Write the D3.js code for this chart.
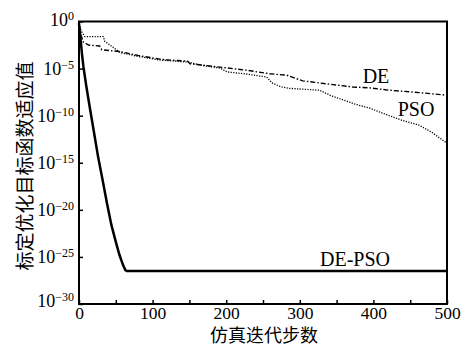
<!DOCTYPE html>
<html>
<head>
<meta charset="utf-8">
<script src="https://cdn.jsdelivr.net/npm/d3@7"></script>
<style>
body { margin: 0; background: #fff; }
svg text { font-family: "Liberation Serif", "DejaVu Serif", serif; fill: #000; }
svg .x-axis text { font-size: 17.5px; }
svg text.cjk { font-family: "Noto Sans CJK SC", sans-serif; font-size: 19px; }
svg text.x-title { font-size: 18px; }
svg text.curve-label { font-size: 20px; }
</style>
</head>
<body>
<svg width="470" height="347"></svg>
<script>
// iteration number and log10 of the best objective value
const deIter = [0, 3, 6, 13, 28, 31, 56, 80, 110, 124, 147, 151, 170, 192, 230, 259, 282, 304, 350, 372, 395, 422, 462, 496, 500];
const deLog = [-0.3, -1.5, -2.2, -2.5, -2.6, -3.0, -3.2, -3.6, -4.0, -4.1, -4.2, -4.5, -4.65, -4.85, -5.2, -5.55, -5.7, -6.3, -6.75, -6.95, -7.05, -7.3, -7.55, -7.8, -7.8];

const psoIter = [0, 3, 8, 33, 35, 42, 56, 80, 110, 147, 170, 192, 201, 230, 255, 262, 273, 286, 327, 343, 358, 376, 395, 408, 439, 462, 480, 496, 500];
const psoLog = [-0.3, -1.0, -1.6, -1.6, -2.1, -2.5, -3.3, -3.7, -4.1, -4.3, -4.7, -4.95, -5.35, -5.6, -5.9, -6.5, -6.9, -7.1, -7.3, -7.9, -8.3, -8.8, -9.2, -9.6, -10.5, -11.0, -11.8, -12.7, -12.9];

const dpIter = [0, 2, 4, 6, 10, 15, 20, 26, 32, 38, 44, 50, 55, 60, 63, 65, 500];
const dpLog = [-0.2, -1.8, -3.4, -4.8, -6.9, -9.3, -11.6, -14.4, -16.8, -19.3, -21.6, -23.4, -24.8, -25.9, -26.4, -26.5, -26.5];

const xTicks = d3.range(0, 501, 50);
const yExps = [0, -5, -10, -15, -20, -25, -30];

const svg = d3.select('svg');
const mLeft = 79, mRight = 447, mTop = 21.5, mBottom = 304;

const x = d3.scaleLinear().domain([0, 500]).range([mLeft, mRight]);
const y = d3.scaleLog().domain([1e-30, 1]).range([mBottom, mTop]);

const line = d3.line()
    .x(d => x(d[0]))
    .y(d => y(Math.pow(10, d[1])));

// curves
svg.append('path')
    .datum(d3.zip(deIter, deLog))
    .attr('d', line)
    .attr('fill', 'none')
    .attr('stroke', '#000')
    .attr('stroke-width', 1.4)
    .attr('stroke-dasharray', '5,2,1.5,2');

svg.append('path')
    .datum(d3.zip(psoIter, psoLog))
    .attr('d', line)
    .attr('fill', 'none')
    .attr('stroke', '#000')
    .attr('stroke-width', 1.3)
    .attr('stroke-dasharray', '1.2,1.4');

svg.append('path')
    .datum(d3.zip(dpIter, dpLog))
    .attr('d', line)
    .attr('fill', 'none')
    .attr('stroke', '#000')
    .attr('stroke-width', 2.5);

// axes, ticks pointing inward
const xAxis = svg.append('g')
    .attr('class', 'x-axis')
    .attr('transform', `translate(0,${mBottom})`)
    .call(d3.axisBottom(x).tickValues(xTicks).tickSize(-4).tickPadding(3)
        .tickFormat(d => d % 100 === 0 ? d : ''));
xAxis.select('.domain').remove();
xAxis.selectAll('line').attr('stroke-width', 1.5);
xAxis.attr('font-family', null).attr('font-size', null);

const yAxis = svg.append('g')
    .attr('transform', `translate(${mLeft},0)`)
    .call(d3.axisLeft(y).tickValues(yExps.map(e => Math.pow(10, e))).tickSize(-4).tickFormat(''));
yAxis.select('.domain').remove();
yAxis.selectAll('line').attr('stroke-width', 1.5);
yAxis.attr('font-family', null).attr('font-size', null);

yAxis.selectAll('.tick').each(function(d, i) {
    const e = yExps[i];
    const t = d3.select(this).append('text')
        .attr('x', -5)
        .attr('y', e === 0 ? 3.5 : e === -30 ? 2 : 5.5)
        .attr('text-anchor', 'end')
        .style('font-size', '18px');
    t.append('tspan').text('10');
    t.append('tspan').attr('dy', -6).style('font-size', '12px')
        .text(e === 0 ? '0' : '\u2212' + (-e));
});

// frame
svg.append('rect')
    .attr('x', mLeft).attr('y', mTop)
    .attr('width', mRight - mLeft).attr('height', mBottom - mTop)
    .attr('fill', 'none')
    .attr('stroke', '#000')
    .attr('stroke-width', 2);

// curve labels
svg.append('text').attr('class', 'curve-label').attr('x', 376).attr('y', 83).attr('text-anchor', 'middle').text('DE');
svg.append('text').attr('class', 'curve-label').attr('x', 416).attr('y', 116).attr('text-anchor', 'middle').text('PSO');
svg.append('text').attr('class', 'curve-label').attr('x', 355).attr('y', 266).attr('text-anchor', 'middle').text('DE-PSO');

// axis titles
svg.append('text')
    .attr('class', 'cjk')
    .attr('transform', 'translate(23,166) rotate(-90)')
    .attr('text-anchor', 'middle')
    .attr('dominant-baseline', 'central')
    .text('标定优化目标函数适应值');

svg.append('text')
    .attr('class', 'cjk x-title')
    .attr('x', 264).attr('y', 341.5)
    .attr('text-anchor', 'middle')
    .text('仿真迭代步数');
</script>
</body>
</html>
